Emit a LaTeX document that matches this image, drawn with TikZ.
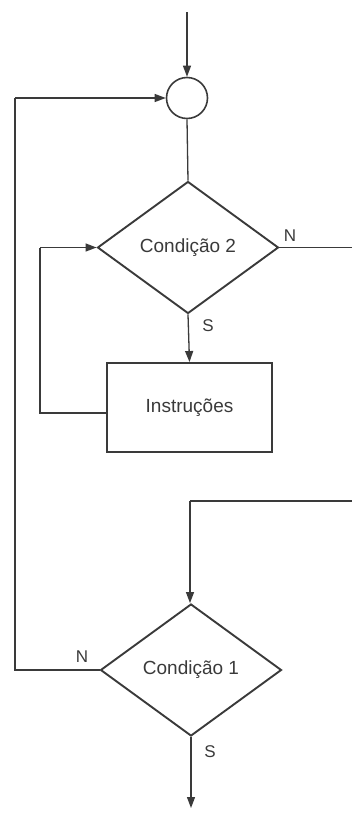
\documentclass[tikz,border=0pt]{standalone}
\usepackage{fontspec}
\setmainfont{Liberation Sans}
\usetikzlibrary{shapes.geometric,arrows.meta}
\definecolor{ink}{HTML}{3A3A3A}
\begin{document}
\begin{tikzpicture}[x=1pt,y=-1pt,
  shapeline/.style={draw=ink,line width=1.9pt},
  decision/.style={shapeline,diamond,inner sep=0pt,minimum width=181pt,minimum height=132pt,font=\fontsize{19}{22}\selectfont,text=ink},
  procbox/.style={shapeline,rectangle,inner sep=0pt,minimum width=165pt,minimum height=89pt,font=\fontsize{19}{22}\selectfont,text=ink},
  joint/.style={shapeline,circle,inner sep=0pt,minimum size=41pt,line width=1.6pt},
  conn/.style={draw=ink,line width=1.3pt},
  arr/.style={conn,-{Triangle[length=11pt,width=8pt]}},
  lbl/.style={font=\fontsize{17}{20}\selectfont,text=ink,inner sep=0pt}
]
\useasboundingbox (0,0) rectangle (351,814);
% nodes
\node[joint] (c) at (187,98) {};
\node[decision] (d2) at (188,247.5) {Condição 2};
\node[procbox] (ins) at (189.5,407.5) {Instruções};
\node[decision] (d1) at (191,670) {Condição 1};
% free ends
\coordinate (start) at (187,12);
\coordinate (end) at (191,808);
\coordinate (r1) at (352,247.5);
\coordinate (r2) at (352,501);
\coordinate (r3) at (190,501);
\coordinate (l1) at (15,670);
\coordinate (l2) at (15,98);
\coordinate (m1) at (40,413);
\coordinate (m2) at (40,247.5);
% connectors
\draw[arr] (start) -- (c.north);
\draw[conn] (c.south) -- (d2.north);
\draw[arr] (d2.south) -- (ins.north);
\draw[conn] (ins.west |- m1) -- (m1) -- (m2);
\draw[arr] (m2) -- (d2.west);
\draw[conn] (d2.east) -- (r1);
\draw[conn] (r2) -- (r3);
\draw[arr] (r3) -- (r3 |- d1.north);
\draw[conn] (d1.west) -- (l1) -- (l2);
\draw[arr] (l2) -- (c.west);
\draw[arr] (d1.south) -- (end);
% labels
\node[lbl] (n2) at (290,236) {N};
\node[lbl] (s2) at (208,326) {S};
\node[lbl] (n1) at (82,657) {N};
\node[lbl] (s1) at (210,752) {S};
\end{tikzpicture}
\end{document}
